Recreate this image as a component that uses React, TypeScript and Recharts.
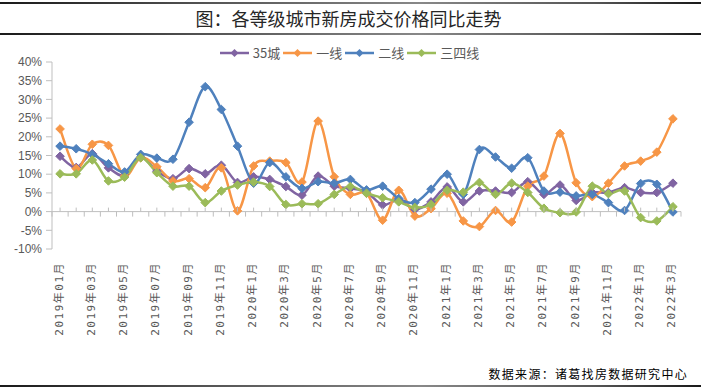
import React from "react";
import { LineChart, Line, XAxis, YAxis, ReferenceLine } from "recharts";

const categories = [
  "2019年01月", "2019年02月", "2019年03月", "2019年04月", "2019年05月", "2019年06月",
  "2019年07月", "2019年08月", "2019年09月", "2019年10月", "2019年11月", "2019年12月",
  "2020年1月", "2020年2月", "2020年3月", "2020年4月", "2020年5月", "2020年6月",
  "2020年7月", "2020年8月", "2020年9月", "2020年10月", "2020年11月", "2020年12月",
  "2021年1月", "2021年2月", "2021年3月", "2021年4月", "2021年5月", "2021年6月",
  "2021年7月", "2021年8月", "2021年9月", "2021年10月", "2021年11月", "2021年12月",
  "2022年1月", "2022年2月", "2022年3月",
];

const city35 = [
  14.8, 11.8, 15.5, 11.7, 9.7, 14.5, 10.8, 8.8, 11.5, 10.1, 12.4, 7.8,
  9.3, 8.6, 6.7, 4.4, 9.5, 6.8, 6.2, 5.2, 1.8, 3.1, 0.6, 2.6,
  6.6, 2.6, 5.5, 5.5, 5.1, 8.0, 4.6, 7.1, 3.0, 5.1, 5.1, 6.4,
  5.1, 5.1, 7.6,
];
const tier1 = [
  22.1, 11.5, 18.0, 17.7, 9.5, 14.4, 12.0, 8.2, 8.8, 6.4, 11.7, 0.2,
  12.2, 13.5, 13.1, 7.9, 24.2, 9.3, 4.6, 4.9, -2.3, 5.7, -1.2, 0.8,
  4.9, -2.5, -4.0, 0.3, -2.8, 6.8, 9.5, 20.9, 7.7, 4.0, 7.6, 12.2,
  13.5, 15.9, 24.8,
];
const tier2 = [
  17.5, 16.8, 15.3, 12.8, 10.6, 15.3, 14.3, 14.0, 23.9, 33.4, 27.3, 17.5,
  7.6, 13.1, 9.3, 6.2, 8.0, 7.6, 8.6, 5.8, 6.8, 3.5, 2.4, 6.0,
  10.0, 4.6, 16.6, 14.6, 11.6, 14.4, 5.5, 5.2, 4.2, 4.6, 2.4, 0.3,
  7.5, 7.3, -0.1,
];
const tier34 = [
  10.1, 10.1, 13.8, 8.2, 9.2, 14.4, 10.4, 6.8, 6.8, 2.4, 5.5, 7.1,
  7.9, 6.7, 1.9, 2.1, 2.1, 4.6, 6.7, 4.9, 3.7, 2.6, 1.1, 1.9,
  5.7, 5.2, 7.8, 4.6, 7.6, 5.1, 0.9, -0.3, -0.1, 6.8, 4.8, 5.5,
  -1.6, -2.5, 1.3,
];

const yTicks = [-10, -5, 0, 5, 10, 15, 20, 25, 30, 35, 40];
const yMinorTicks = Array.from({ length: 51 }, (_, i) => i - 10);

const seriesNames = ["35城", "一线", "二线", "三四线"];
const seriesKeys = ["c35", "t1", "t2", "t34"];
const seriesColors = ["#8064A2", "#F79646", "#4F81BD", "#9BBB59"];

const data = categories.map((m, i) => ({
  month: m,
  c35: city35[i],
  t1: tier1[i],
  t2: tier2[i],
  t34: tier34[i],
}));

// layout constants
const W = 701;
const H = 389;
const PLOT_LEFT = 52;
const PLOT_RIGHT_MARGIN = 20;
const PLOT_TOP = 62;
const PLOT_BOTTOM = 249;
const Y_MIN = -10;
const Y_MAX = 40;
const PLOT_H = PLOT_BOTTOM - PLOT_TOP;
const ZERO_Y = PLOT_TOP + (PLOT_H * Y_MAX) / (Y_MAX - Y_MIN);
const HALF_STEP = (W - PLOT_LEFT - PLOT_RIGHT_MARGIN) / categories.length / 2;

// Excel-like smoothing (Catmull-Rom through points)
const excelSmooth: any = (context: any) => {
  let pts: number[][] = [];
  return {
    areaStart() {},
    areaEnd() {},
    lineStart() {
      pts = [];
    },
    point(x: number, y: number) {
      pts.push([+x, +y]);
    },
    lineEnd() {
      if (!pts.length) return;
      context.moveTo(pts[0][0], pts[0][1]);
      if (pts.length === 1) return;
      for (let i = 0; i < pts.length - 1; i++) {
        const p0 = pts[i - 1] || pts[i];
        const p1 = pts[i];
        const p2 = pts[i + 1];
        const p3 = pts[i + 2] || p2;
        const c1x = p1[0] + (p2[0] - p0[0]) / 6;
        const c1y = p1[1] + (p2[1] - p0[1]) / 6;
        const c2x = p2[0] - (p3[0] - p1[0]) / 6;
        const c2y = p2[1] - (p3[1] - p1[1]) / 6;
        context.bezierCurveTo(c1x, c1y, c2x, c2y, p2[0], p2[1]);
      }
    },
  };
};

const makeDiamond = (color: string) => (props: any) => {
  const { cx, cy, index } = props;
  if (cx == null || cy == null) return <g key={`d${index}`} />;
  const r = 4.3;
  return (
    <path
      key={`d${index}`}
      d={`M${cx},${cy - r}L${cx + r},${cy}L${cx},${cy + r}L${cx - r},${cy}Z`}
      fill={color}
      stroke={color}
      strokeWidth={1}
    />
  );
};

const XTick = (props: any) => {
  const { x, y, index, payload } = props;
  const labelTop = y + 13;
  return (
    <g>
      <line x1={x} y1={ZERO_Y - 4} x2={x} y2={ZERO_Y} stroke="#BFBFBF" strokeWidth={1} />
      <line x1={x + HALF_STEP} y1={ZERO_Y} x2={x + HALF_STEP} y2={ZERO_Y + 5} stroke="#BFBFBF" strokeWidth={1} />
      {index === 0 && (
        <line x1={x - HALF_STEP} y1={ZERO_Y} x2={x - HALF_STEP} y2={ZERO_Y + 5} stroke="#BFBFBF" strokeWidth={1} />
      )}
      {index % 2 === 0 && (
        <text
          x={x - 1}
          y={labelTop}
          transform={`rotate(-90, ${x - 1}, ${labelTop})`}
          textAnchor="end"
          dominantBaseline="central"
          fill="#595959"
          fontSize={11}
          letterSpacing={1.5}
          fontFamily="'DejaVu Sans Mono', 'Noto Sans CJK SC', sans-serif"
        >
          {payload.value}
        </text>
      )}
    </g>
  );
};

const EmptyTick = () => <g />;

const LegendIcon = ({ color }: { color: string }) => (
  <svg width={29} height={10} style={{ display: "block" }}>
    <line x1={0} y1={5} x2={29} y2={5} stroke={color} strokeWidth={2.5} />
    <path d="M14.5,1L18.5,5L14.5,9L10.5,5Z" fill={color} />
  </svg>
);

const ruleStyle = (top: number, h: number): React.CSSProperties => ({
  position: "absolute",
  left: 0,
  top,
  width: W,
  height: h,
  background: "linear-gradient(to right, #1a1a1a, #555 30%, #888 60%, #555 85%, #1a1a1a)",
});

export default function App() {
  return (
    <div
      style={{
        position: "absolute",
        left: 0,
        top: 0,
        width: W,
        height: H,
        background: "#fff",
        overflow: "hidden",
      }}
    >
      <div style={ruleStyle(2, 2)} />
      <div style={ruleStyle(33, 2)} />
      <div style={ruleStyle(385, 2)} />
      <div
        style={{
          position: "absolute",
          left: 0,
          top: 5,
          width: W,
          height: 27,
          lineHeight: "27px",
          textAlign: "center",
          fontFamily: "'Noto Sans CJK SC', sans-serif",
          fontSize: 18,
          color: "#262626",
          paddingRight: 4,
          boxSizing: "border-box",
        }}
      >
        图：各等级城市新房成交价格同比走势
      </div>

      <div
        style={{
          position: "absolute",
          left: 0,
          top: 44,
          width: W,
          height: 18,
          display: "flex",
          justifyContent: "center",
          alignItems: "center",
          fontFamily: "'Noto Sans CJK SC', sans-serif",
          fontSize: 13,
          color: "#595959",
          paddingRight: 2,
          boxSizing: "border-box",
        }}
      >
        {seriesNames.map((n, i) => (
          <div key={n} style={{ display: "flex", alignItems: "center", marginRight: i < 3 ? 3 : 0 }}>
            <LegendIcon color={seriesColors[i]} />
            <span style={{ marginLeft: 4, lineHeight: "18px" }}>{n}</span>
          </div>
        ))}
      </div>

      <div style={{ position: "absolute", left: 0, top: 0 }}>
        <LineChart
          width={W}
          height={H}
          data={data}
          margin={{ top: PLOT_TOP, right: PLOT_RIGHT_MARGIN, left: 0, bottom: 0 }}
        >
          <XAxis
            dataKey="month"
            interval={0}
            tickLine={false}
            axisLine={false}
            tickSize={0}
            tickMargin={0}
            height={H - PLOT_BOTTOM}
            padding={{ left: HALF_STEP, right: HALF_STEP }}
            tick={<XTick />}
          />
          <YAxis
            width={PLOT_LEFT}
            domain={[Y_MIN, Y_MAX]}
            ticks={yTicks}
            interval={0}
            allowDataOverflow
            tickFormatter={(v: number) => `${v}%`}
            tick={{ fill: "#595959", fontSize: 12, fontFamily: "'Liberation Sans', Arial, sans-serif" }}
            tickLine={{ stroke: "#BFBFBF" }}
            axisLine={{ stroke: "#BFBFBF" }}
            tickSize={6}
            tickMargin={4}
          />
          <YAxis
            yAxisId="minor"
            width={0}
            mirror
            domain={[Y_MIN, Y_MAX]}
            ticks={yMinorTicks}
            allowDataOverflow
            interval={0}
            tick={<EmptyTick />}
            tickLine={{ stroke: "#BFBFBF" }}
            axisLine={false}
            tickSize={2}
          />
          <ReferenceLine y={0} stroke="#BFBFBF" strokeWidth={1} />
          {seriesKeys.map((k, i) => (
            <Line
              key={k}
              dataKey={k}
              name={seriesNames[i]}
              type={excelSmooth}
              stroke={seriesColors[i]}
              strokeWidth={2.5}
              dot={makeDiamond(seriesColors[i])}
              activeDot={false}
              isAnimationActive={false}
            />
          ))}
        </LineChart>
      </div>

      <div
        style={{
          position: "absolute",
          right: 13,
          top: 365,
          height: 18,
          lineHeight: "18px",
          fontFamily: "'Noto Sans CJK SC', sans-serif",
          fontSize: 12,
          letterSpacing: 1.3,
          color: "#000",
          whiteSpace: "nowrap",
        }}
      >
        数据来源：诸葛找房数据研究中心
      </div>
    </div>
  );
}
